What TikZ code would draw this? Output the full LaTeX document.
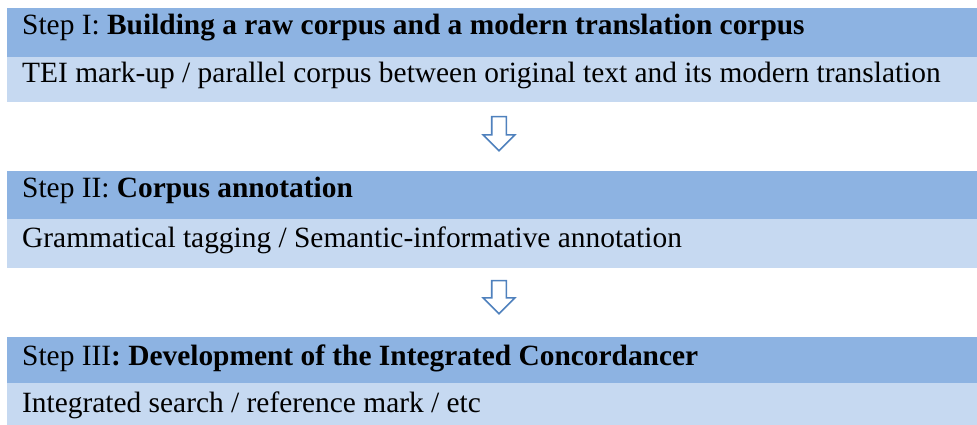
\documentclass[tikz,border=0pt]{standalone}
\usepackage{fontspec}
\setmainfont{Liberation Serif}
\definecolor{headblue}{RGB}{141,179,226}
\definecolor{bodyblue}{RGB}{198,217,241}
\definecolor{arrowblue}{RGB}{79,129,189}
\usetikzlibrary{shapes.arrows,positioning,calc}

\begin{document}
\begin{tikzpicture}[x=1pt,y=-1pt,
    bar/.style={anchor=north west, minimum width=970pt, inner sep=0pt, outer sep=0pt},
    headbar/.style={bar, fill=headblue},
    bodybar/.style={bar, fill=bodyblue},
    steptext/.style={anchor=base west, inner sep=0pt, font=\fontsize{29.4}{34}\selectfont},
    downarrow/.style={single arrow, draw=arrowblue, fill=white, line width=1.6pt,
        shape border rotate=270, minimum width=30pt, minimum height=34pt,
        single arrow head extend=8.5pt, inner sep=6.5pt}]
    \useasboundingbox (0,0) rectangle (977,425);
    % step I
    \node[headbar, minimum height=49pt] (head1) at (7,8) {};
    \node[bodybar, minimum height=45pt] (body1) at (7,57) {};
    \node[steptext] (title1) at ([shift={(15,27)}]head1.north west) {Step I: \textbf{Building a raw corpus and a modern translation corpus}};
    \node[steptext] (text1) at ([shift={(15,26)}]body1.north west) {TEI mark-up / parallel corpus between original text and its modern translation};
    % step II
    \node[headbar, minimum height=48pt] (head2) at (7,171) {};
    \node[bodybar, minimum height=49pt] (body2) at (7,219) {};
    \node[steptext] (title2) at ([shift={(15,26)}]head2.north west) {Step II: \textbf{Corpus annotation}};
    \node[steptext] (text2) at ([shift={(15,28)}]body2.north west) {Grammatical tagging / Semantic-informative annotation};
    % step III
    \node[headbar, minimum height=46pt] (head3) at (7,337) {};
    \node[bodybar, minimum height=42pt] (body3) at (7,383) {};
    \node[steptext] (title3) at ([shift={(15,28)}]head3.north west) {Step III\textbf{: Development of the Integrated Concordancer}};
    \node[steptext] (text3) at ([shift={(15,29)}]body3.north west) {Integrated search / reference mark / etc};
    % arrows
    \node[downarrow] (arrow1) at (499,130) {};
    \node[downarrow, minimum height=33pt] (arrow2) at (499,293.5) {};
\end{tikzpicture}
\end{document}
